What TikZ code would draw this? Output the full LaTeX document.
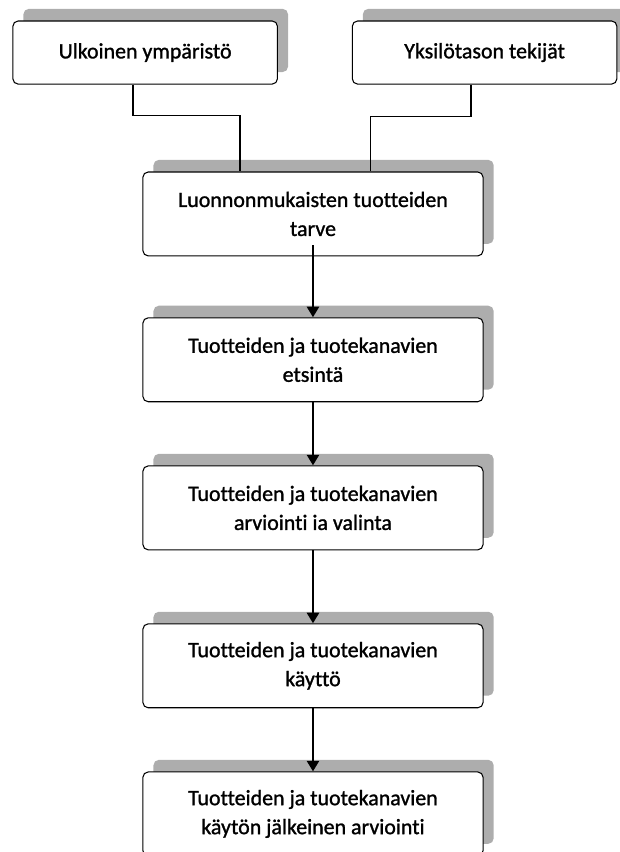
\documentclass[tikz,border=0pt]{standalone}
\usepackage{fontspec}
\setmainfont{Carlito}[Ligatures=NoCommon, FakeBold=1.2]
\usetikzlibrary{arrows.meta, positioning, shadows}

\begin{document}
\begin{tikzpicture}[
    font=\fontsize{16.5pt}{21.8pt}\selectfont,
    box/.style = {
        rectangle, draw=black, fill=white,
        rounded corners=4pt, minimum width=9cm, minimum height=2.22cm,
        align=center, line width=0.8pt,
        drop shadow={shadow xshift=0.28cm, shadow yshift=0.32cm,
                     fill=black!32, opacity=1}
    },
    topbox/.style = {box, minimum width=7cm, minimum height=1.67cm},
    line/.style = {line width=0.9pt, draw=black},
    arr/.style = {-{Triangle[width=9pt, length=8pt]}, line width=2pt}
]
\useasboundingbox (0,0) rectangle (16.38,-22.54);

% ---- Factors ----
\node[topbox] (ulko) at (3.84,-1.39) {Ulkoinen ympäristö};
\node[topbox] (yksilo) at (12.82,-1.39) {Yksilötason tekijät};

% ---- Process column ----
\node[box] (tarve) at (8.28,-5.66) {Luonnonmukaisten tuotteiden\\tarve};
\node[box, below=1.61cm of tarve] (etsinta) {Tuotteiden ja tuotekanavien\\etsintä};
\node[box, below=1.67cm of etsinta] (valinta) {Tuotteiden ja tuotekanavien\\arviointi ia valinta};
\node[box, below=1.93cm of valinta] (kaytto) {Tuotteiden ja tuotekanavien\\käyttö};
\node[box, below=1.67cm of kaytto] (arviointi) {Tuotteiden ja tuotekanavien\\käytön jälkeinen arviointi};

% ---- Connectors ----
\draw[line] ([xshift=-0.32cm]ulko.south) -- ++(0,-0.82) -| ([xshift=-1.93cm]tarve.north);
\draw[line] ([xshift=-0.36cm]yksilo.south) -- ++(0,-0.85) -| ([xshift=1.53cm]tarve.north);

% ---- Arrows ----
\draw[arr] ([yshift=0.29cm]tarve.south) -- (etsinta);
\draw[arr] (etsinta) -- (valinta);
\draw[arr] (valinta) -- (kaytto);
\draw[arr] (kaytto) -- (arviointi);

\end{tikzpicture}
\end{document}
